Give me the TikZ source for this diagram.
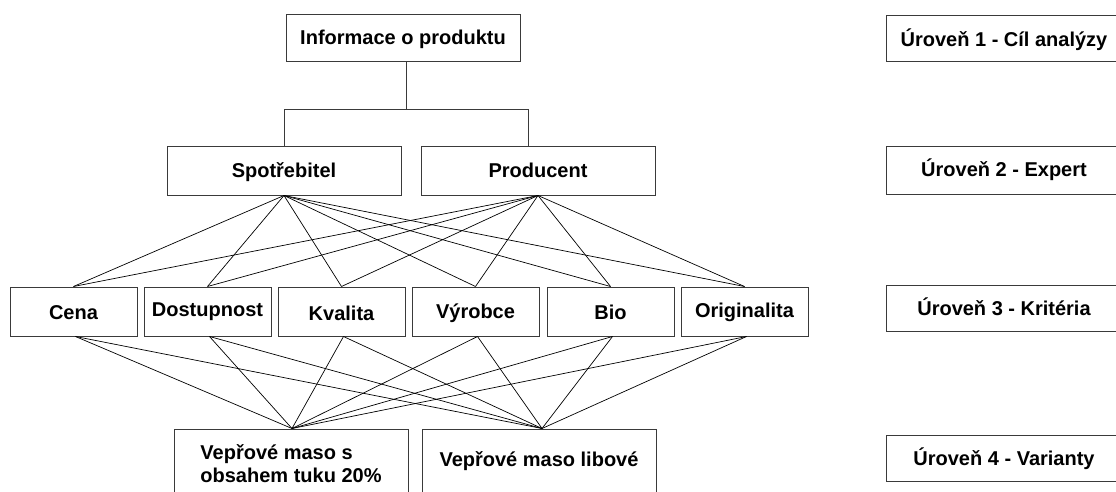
\documentclass[tikz,border=0pt]{standalone}
\usepackage{fontspec}
\setmainfont{Liberation Sans}
\definecolor{boxgray}{HTML}{3A3A3A}
\newcommand\lab{\fontsize{20}{23}\selectfont\bfseries}
\tikzset{
  box/.style={draw=boxgray, line width=1pt, inner sep=0pt, font=\lab, text=black},
  % baseline sits #1/2 below the box centre
  base/.style={text height=#1, text depth=0pt},
  topbox/.style={box, minimum width=234pt, minimum height=47pt},
  critbox/.style={box, minimum width=127pt, minimum height=49pt},
  levelbox/.style={box, minimum width=236pt, minimum height=46pt},
  tree/.style={draw=boxgray, line width=1pt},
  link/.style={draw=black, line width=0.7pt}
}
\begin{document}
\begin{tikzpicture}[x=1pt, y=-1pt]
  \useasboundingbox (0,0) rectangle (1116,492);
  \clip (0,0) rectangle (1116,492);

  % goal and experts
  \node[topbox, base=13pt] (info) at (403,38.5) {Informace o produktu};
  \node[topbox, base=12pt, minimum height=48pt] (spot) at (284,171) {Spotřebitel};
  \node[topbox, base=12pt, minimum height=48pt] (prod) at (538,171) {Producent};

  % criteria
  \node[critbox, base=15pt] (cena) at (73.5,311.5)  {Cena};
  \node[critbox, base=10pt] (dost) at (207.5,311.5) {Dostupnost};
  \node[critbox, base=17pt] (kval) at (341.5,311.5) {Kvalita};
  \node[critbox, base=13pt] (vyro) at (475.5,311.5) {Výrobce};
  \node[critbox, base=15pt] (bio)  at (610.5,311.5) {Bio};
  \node[critbox, base=11pt] (orig) at (744.5,311.5) {Originalita};

  % variants
  \node[box, minimum width=234pt, minimum height=70pt, align=left] (var1) at (291,464)
    {Vepřové maso s\\obsahem tuku 20\%};
  \node[box, minimum width=234pt, minimum height=64pt] (var2) at (539,461) {Vepřové maso libové};

  % level captions
  \node[levelbox, base=15.5pt] (lev1) at (1004,39)    {Úroveň 1 - Cíl analýzy};
  \node[levelbox, base=12.5pt, minimum height=47pt] (lev2) at (1004,170.5) {Úroveň 2 - Expert};
  \node[levelbox, base=14pt] (lev3) at (1004,308)   {Úroveň 3 - Kritéria};
  \node[levelbox, base=14pt] (lev4) at (1004,458)   {Úroveň 4 - Varianty};

  % tree between goal and experts
  \coordinate (fork) at ([xshift=3pt, yshift=-47pt]info.south);
  \coordinate (pjoin) at ([xshift=-10pt]prod.north);
  \draw[tree] (fork |- info.south) -- (fork);
  \draw[tree] (spot.north) |- (fork) -| (pjoin);

  % experts to criteria, criteria to variants
  \foreach \c in {cena,dost,kval,vyro,bio,orig} {
    \draw[link] (spot.south) -- (\c.north);
    \draw[link] (prod.south) -- (\c.north);
    \draw[link] ([xshift=2pt]\c.south) -- ([xshift=1pt]var1.north);
    \draw[link] ([xshift=2pt]\c.south) -- ([xshift=3pt]var2.north);
  }
\end{tikzpicture}
\end{document}
